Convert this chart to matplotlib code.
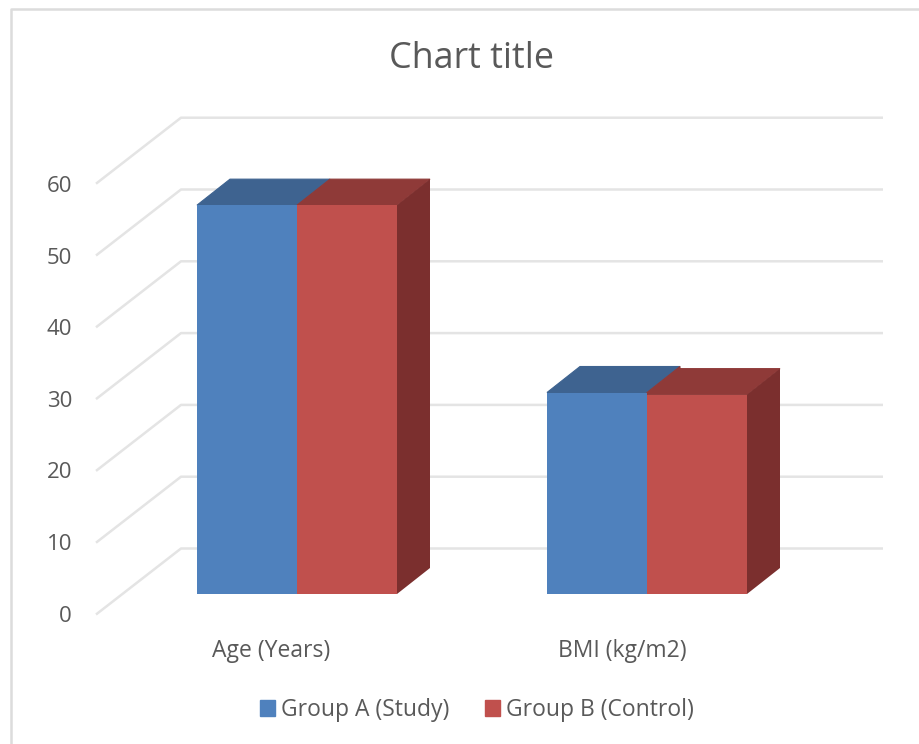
import matplotlib
matplotlib.use("Agg")
import matplotlib.pyplot as plt
from matplotlib.patches import Polygon, Rectangle

categories = ["Age (Years)", "BMI (kg/m2)"]
group_a = [55.0, 28.5]
group_b = [55.0, 28.2]
series_names = ["Group A (Study)", "Group B (Control)"]
tick_values = [0, 10, 20, 30, 40, 50, 60]

BLUE = "#4f81bd"
BLUE_TOP = "#3e6390"
RED = "#c0504d"
RED_TOP = "#8f3a38"
RED_SIDE = "#7b2f2e"
GRID = "#e4e4e4"
TEXT = "#595959"

W, H = 919, 744
PX_PER_CAT = 350.0
PX_PER_UNIT = 7.07
BASE_X = 297.0
BASE_Y = 594.0
BAR_W = 100 / PX_PER_CAT
DEPTH_X = 33 / PX_PER_CAT
DEPTH_Y = 26 / PX_PER_UNIT

plt.rcParams["font.family"] = ["Open Sans", "DejaVu Sans"]

fig = plt.figure(figsize=(W / 100, H / 100), dpi=100)
ax = fig.add_axes([0, 0, 1, 1])
ax.set_xlim(-BASE_X / PX_PER_CAT, (W - BASE_X) / PX_PER_CAT)
ax.set_ylim(-(H - BASE_Y) / PX_PER_UNIT, BASE_Y / PX_PER_UNIT)
ax.axis("off")


def to_data(x, y):
    return (x - BASE_X) / PX_PER_CAT, (BASE_Y - y) / PX_PER_UNIT


# outer chart border, open on the right and the bottom
ax.plot(*zip(to_data(11, H), to_data(11, 9), to_data(W, 9)), color="#dcdcdc", lw=1.8, zorder=1)

# back wall gridlines plus the slanted floor/side lines
for t in tick_values:
    back_y = 548.5 - 71.8 * t / 10
    front_y = back_y + 66
    ax.plot(*zip(to_data(96, front_y), to_data(181, back_y), to_data(883, back_y)),
            color=GRID, lw=1.8, solid_capstyle="butt", zorder=2)
    x_t, y_t = to_data(72, 616 - 71.5 * t / 10)
    ax.text(x_t, y_t, str(t), ha="right", va="center", fontsize=16, color=TEXT)


def draw_bar(x_left, value, front, top, side=None, left_value=None):
    bar = ax.bar(x_left, value, width=BAR_W, align="edge", color=front, zorder=4)
    # a lower bar's top starts along the slanted edge of its taller neighbour
    edge = value if left_value is None else max(value, left_value)
    ax.add_patch(Polygon([(x_left, value), (x_left, edge), (x_left + DEPTH_X, edge + DEPTH_Y),
                          (x_left + DEPTH_X, value + DEPTH_Y),
                          (x_left + BAR_W + DEPTH_X, value + DEPTH_Y), (x_left + BAR_W, value)],
                         closed=True, facecolor=top, edgecolor=top, lw=0.8, zorder=3.5))
    if side:
        x_r = x_left + BAR_W
        ax.add_patch(Polygon([(x_r, 0), (x_r + DEPTH_X, DEPTH_Y),
                              (x_r + DEPTH_X, value + DEPTH_Y), (x_r, value)],
                             closed=True, color=side, lw=0, zorder=3.6))
    return bar


for i in range(len(categories)):
    draw_bar(i - BAR_W, group_a[i], BLUE, BLUE_TOP)
    draw_bar(i, group_b[i], RED, RED_TOP, RED_SIDE, left_value=group_a[i])
    x_t, y_t = to_data(271.5 + i * 350.5, 651)
    ax.text(x_t, y_t, categories[i], ha="center", va="center", fontsize=16.5, color=TEXT)

x_t, y_t = to_data(471.5, 59)
ax.text(x_t, y_t, "Chart title", ha="center", va="center", fontsize=25.8, color=TEXT)

handles = [Rectangle((0, 0), 1, 1, color=BLUE), Rectangle((0, 0), 1, 1, color=RED)]
ax.legend(handles, series_names, loc="center", ncols=2, frameon=False,
          bbox_to_anchor=(477 / W, 1 - 710 / H), fontsize=16.5, labelcolor=TEXT,
          handlelength=0.66, handleheight=0.66, handletextpad=0.26, columnspacing=1.57)

fig.savefig("out.png", dpi=100)
